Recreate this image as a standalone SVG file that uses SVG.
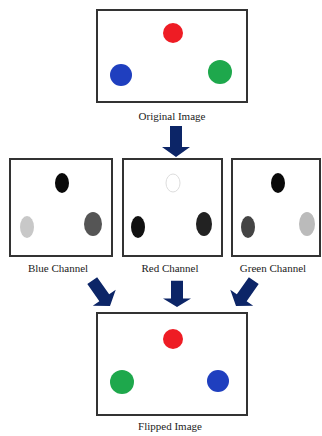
<svg xmlns="http://www.w3.org/2000/svg" width="322" height="436" viewBox="0 0 322 436">
<style>
.frame{fill:#fff;stroke:#333;stroke-width:2}
.lbl{font-family:"Liberation Serif","Times New Roman",serif;font-size:11px;fill:#222;text-anchor:middle}
.arr{fill:#0c2567}
</style>
<defs>
<polygon id="arrow" points="-6,-31 6,-31 6,-10 14,-10 0,0 -14,-10 -6,-10"/>
</defs>
<rect width="322" height="436" fill="#fff"/>
<g id="original">
<rect class="frame" x="97" y="10" width="150" height="92"/>
<circle cx="173" cy="33" r="10" fill="#ee1c24"/>
<circle cx="121" cy="75" r="11" fill="#1f3fbf"/>
<circle cx="220" cy="72" r="12" fill="#1ea84c"/>
<text class="lbl" x="172" y="120">Original Image</text>
</g>
<g id="blue-channel">
<rect class="frame" x="10" y="159" width="102" height="97"/>
<ellipse cx="62" cy="183" rx="7" ry="10" fill="#0a0a0a"/>
<ellipse cx="27" cy="227" rx="7" ry="11" fill="#c8c8c8"/>
<ellipse cx="93" cy="224" rx="9" ry="12" fill="#555"/>
<text class="lbl" x="58" y="272">Blue Channel</text>
</g>
<g id="red-channel">
<rect class="frame" x="123" y="159" width="99" height="97"/>
<ellipse cx="173" cy="183" rx="7" ry="9" fill="none" stroke="#ddd" stroke-width="1"/>
<ellipse cx="138" cy="227" rx="7" ry="11" fill="#111"/>
<ellipse cx="204" cy="224" rx="8" ry="12" fill="#222"/>
<text class="lbl" x="170" y="272">Red Channel</text>
</g>
<g id="green-channel">
<rect class="frame" x="232" y="159" width="88" height="97"/>
<ellipse cx="278" cy="183" rx="7" ry="10" fill="#0a0a0a"/>
<ellipse cx="248" cy="227" rx="7" ry="11" fill="#444"/>
<ellipse cx="307" cy="224" rx="8" ry="12" fill="#bbb"/>
<text class="lbl" x="273" y="272">Green Channel</text>
</g>
<g id="flipped">
<rect class="frame" x="97" y="313" width="150" height="102"/>
<circle cx="173" cy="339" r="10" fill="#ee1c24"/>
<circle cx="122" cy="382" r="12" fill="#1ea84c"/>
<circle cx="218" cy="381" r="11" fill="#1f3fbf"/>
<text class="lbl" x="170" y="430">Flipped Image</text>
</g>
<g id="connectors" class="arr">
<use href="#arrow" transform="translate(176,157)"/>
<use href="#arrow" transform="translate(110,306) rotate(-35)"/>
<use href="#arrow" transform="translate(177,307) scale(1,0.85)"/>
<use href="#arrow" transform="translate(236,306) rotate(35)"/>
</g>
</svg>
